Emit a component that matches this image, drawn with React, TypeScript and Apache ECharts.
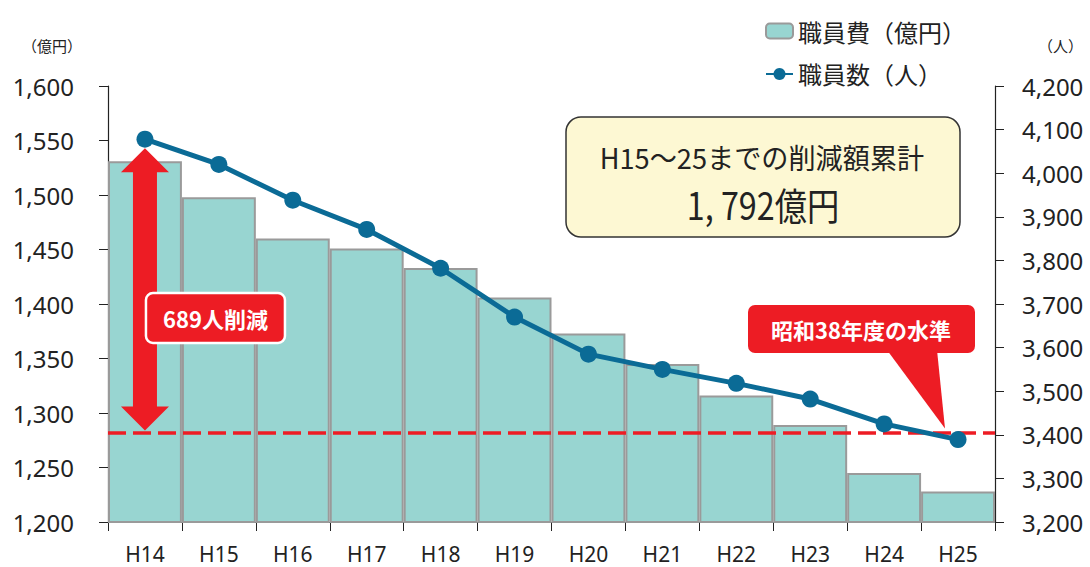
import React, { useEffect, useRef } from 'react';
import * as echarts from 'echarts';

const categories = ['H14', 'H15', 'H16', 'H17', 'H18', 'H19', 'H20', 'H21', 'H22', 'H23', 'H24', 'H25'];
const personnelCost = [1531, 1498, 1460, 1451, 1433, 1406, 1373, 1345, 1316, 1289, 1245, 1228];
const staffCount = [4078, 4020, 3938, 3871, 3782, 3670, 3585, 3550, 3518, 3482, 3425, 3389];
const showaLevel = 3405;
const costRange = [1200, 1600];
const costInterval = 50;
const staffRange = [3200, 4200];
const staffInterval = 100;

const costName = '職員費（億円）';
const staffName = '職員数（人）';
const reductionLabel = '689人削減';
const levelLabel = '昭和38年度の水準';
const summaryTitle = 'H15～25までの削減額累計';
const summaryValue = '1, 792億円';

const RED = '#ed1c24';
const TEAL = '#98d5d1';
const BLUE = '#0b6b96';
const CJK = '"Noto Sans CJK JP", "Noto Sans", sans-serif';
const LATIN = '"Noto Sans", "Noto Sans CJK JP", sans-serif';

export default function App() {
  const ref = useRef<HTMLDivElement>(null);
  useEffect(() => {
    if (!ref.current) return;
    const chart = echarts.init(ref.current, undefined, { renderer: 'svg' });
    chart.setOption({
      animation: false,
      backgroundColor: '#fff',
      grid: { left: 108, right: 95, top: 86, bottom: 45 },
      legend: {
        orient: 'vertical',
        left: 760,
        top: 14,
        itemGap: 19,
        itemWidth: 27,
        itemHeight: 15,
        textStyle: { fontSize: 24, color: '#222', fontFamily: CJK },
        data: [costName, staffName],
      },
      xAxis: {
        type: 'category',
        data: categories,
        boundaryGap: true,
        axisLine: { lineStyle: { color: '#222', width: 1.2 } },
        axisTick: { show: true, length: 9, lineStyle: { color: '#222' } },
        axisLabel: { fontSize: 21, color: '#222', margin: 21, fontFamily: LATIN },
      },
      yAxis: [
        {
          type: 'value',
          min: costRange[0],
          max: costRange[1],
          interval: costInterval,
          splitLine: { show: false },
          axisLine: { show: true, lineStyle: { color: '#222', width: 1.2 } },
          axisTick: { show: true, length: 9, lineStyle: { color: '#222' } },
          axisLabel: { fontSize: 24, color: '#222', margin: 34, fontFamily: LATIN },
        },
        {
          type: 'value',
          min: staffRange[0],
          max: staffRange[1],
          interval: staffInterval,
          splitLine: { show: false },
          axisLine: { show: true, lineStyle: { color: '#222', width: 1.2 } },
          axisTick: { show: true, length: 9, lineStyle: { color: '#222' } },
          axisLabel: { fontSize: 24, color: '#222', margin: 27, fontFamily: LATIN },
        },
      ],
      series: [
        {
          name: costName,
          type: 'bar',
          yAxisIndex: 0,
          data: personnelCost,
          barCategoryGap: '0%',
          itemStyle: { color: TEAL, borderColor: '#9a9a9a', borderWidth: 2 },
          z: 2,
        },
        {
          name: staffName,
          type: 'line',
          yAxisIndex: 1,
          data: staffCount,
          symbol: 'circle',
          symbolSize: 17,
          lineStyle: { color: BLUE, width: 5 },
          itemStyle: { color: BLUE },
          z: 4,
          markLine: {
            silent: true,
            symbol: ['none', 'none'],
            label: { show: false },
            lineStyle: { color: RED, type: [18, 7], width: 3.5 },
            data: [{ yAxis: showaLevel }],
            z: 3,
          },
        },
      ],
    });

    const top = chart.convertToPixel({ xAxisIndex: 0, yAxisIndex: 1 }, [0, staffCount[0]]) as number[];
    const bot = chart.convertToPixel({ xAxisIndex: 0, yAxisIndex: 1 }, [0, showaLevel]) as number[];
    const cx = top[0];
    const y1 = top[1] + 9;
    const y2 = bot[1] - 2;
    const hw = 24, sw = 12, hl = 24;

    chart.setOption({
      graphic: [
        { type: 'text', left: 22, top: 38, style: { text: '（億円）', fontSize: 15, fill: '#222', fontFamily: CJK } },
        { type: 'text', left: 1038, top: 38, style: { text: '（人）', fontSize: 15, fill: '#222', fontFamily: CJK } },
        {
          type: 'polygon',
          z: 10,
          shape: {
            points: [
              [cx, y1], [cx + hw, y1 + hl], [cx + sw, y1 + hl], [cx + sw, y2 - hl], [cx + hw, y2 - hl],
              [cx, y2], [cx - hw, y2 - hl], [cx - sw, y2 - hl], [cx - sw, y1 + hl], [cx - hw, y1 + hl],
            ],
          },
          style: { fill: RED },
        },
        {
          type: 'rect',
          z: 11,
          shape: { x: cx + 1, y: 293, width: 139, height: 50, r: 7 },
          style: { fill: RED, stroke: '#fff', lineWidth: 2.5 },
        },
        {
          type: 'text',
          z: 12,
          x: cx + 70.5,
          y: 318,
          style: { text: reductionLabel, fontSize: 22, fontWeight: 'bold', fill: '#fff', fontFamily: CJK, align: 'center', verticalAlign: 'middle' },
        },
        {
          type: 'rect',
          z: 11,
          shape: { x: 748, y: 305, width: 227, height: 48, r: 7 },
          style: { fill: RED },
        },
        {
          type: 'polygon',
          z: 11,
          shape: { points: [[887, 350], [937, 350], [945, bot[1] - 4]] },
          style: { fill: RED },
        },
        {
          type: 'text',
          z: 12,
          x: 861,
          y: 329,
          style: { text: levelLabel, fontSize: 22, fontWeight: 'bold', fill: '#fff', fontFamily: CJK, align: 'center', verticalAlign: 'middle' },
        },
        {
          type: 'rect',
          z: 11,
          shape: { x: 566, y: 117, width: 394, height: 120, r: 15 },
          style: { fill: '#fdf8d3', stroke: '#333', lineWidth: 1.5 },
        },
        {
          type: 'text',
          z: 12,
          x: 762,
          y: 157,
          scaleX: 0.97,
          style: { text: summaryTitle, fontSize: 28, fill: '#222', fontFamily: CJK, align: 'center', verticalAlign: 'middle' },
        },
        {
          type: 'text',
          z: 12,
          x: 763,
          y: 203,
          scaleX: 0.85,
          style: { text: summaryValue, fontSize: 38, fill: '#222', fontFamily: CJK, align: 'center', verticalAlign: 'middle' },
        },
      ],
    });

    return () => chart.dispose();
  }, []);
  return <div ref={ref} style={{ position: 'fixed', left: 0, top: 0, width: 1090, height: 567 }} />;
}
